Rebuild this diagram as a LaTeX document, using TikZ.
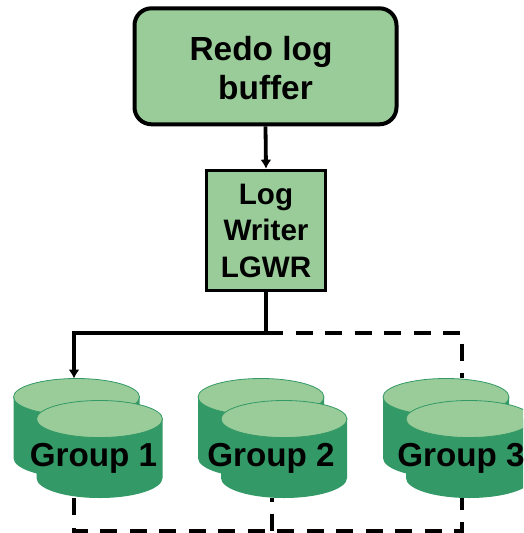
\documentclass[tikz,border=0pt]{standalone}
\usepackage{fontspec}
\setmainfont{Liberation Sans}
\usetikzlibrary{arrows.meta}
\definecolor{lightgreen}{HTML}{99CC99}
\definecolor{darkgreen}{HTML}{339966}
\tikzset{
  every node/.style={font=\bfseries},
  redobox/.style={draw=black,line width=4pt,rounded corners=17pt,fill=lightgreen,minimum width=262pt,minimum height=116pt,inner sep=0pt,align=center,font=\fontsize{33.4}{39}\bfseries\selectfont},
  lgwrbox/.style={draw=black,line width=3.6pt,fill=lightgreen,minimum width=119pt,minimum height=120pt,inner sep=0pt,align=center,font=\fontsize{29.6}{36.5}\bfseries\selectfont},
  grouplabel/.style={anchor=base,inner sep=0pt,font=\fontsize{33.2}{36}\bfseries\selectfont},
  conn/.style={line width=3.8pt,draw=black},
  tip/.style={-{Latex[length=9pt,width=11pt]}},
  dashconn/.style={line width=3.8pt,draw=black,dash pattern=on 17pt off 12.5pt},
  disktop/.style={fill=lightgreen,draw=darkgreen,line width=0.8pt},
  diskbody/.style={fill=darkgreen,draw=none}
}
% #1 left x, #2 top-ellipse centre y, #3 body height
\newcommand{\diskshape}[3]{%
  \path[diskbody] (#1,#2) -- ++(0,#3) arc[start angle=180,end angle=0,x radius=63,y radius=20] -- ++(0,-#3) -- cycle;
  \path[disktop] (#1+63,#2) ellipse[x radius=63,y radius=18.5];
}
\newcommand{\diskpair}[1]{%
  \diskshape{#1}{397}{61}
  \diskshape{#1+23}{419}{59}
}
\begin{document}
\begin{tikzpicture}[x=1pt,y=-1pt]
\useasboundingbox (0,0) rectangle (523,533);
\clip (0,0) rectangle (523,533);
\coordinate (busjoin) at (266,333);
\coordinate (busleft) at (74,333);
\coordinate (busright) at (462,333);
\coordinate (g1top) at (74,378.5);
\coordinate (g1bot) at (74,498);
\coordinate (g2bot) at (272,498);
\coordinate (g3top) at (462,378);
\coordinate (g3bot) at (462,498);
\coordinate (lowleft) at (74,531);
\coordinate (lowmid) at (272,531);
\coordinate (lowright) at (462,531);
% dashed connectors
\draw[dashconn] (g1bot) -- (lowleft) -- (lowright) -- (g3bot);
\draw[dashconn] (lowmid) -- (g2bot);
\draw[dashconn] (busjoin) -- (busright) -- (g3top);
% disks
\diskpair{13.5}
\diskpair{198}
\diskpair{383}
% boxes
\node[redobox] (redo) at (265.5,66.3) {\rule{0pt}{27pt}Redo log\hspace{9pt}\mbox{}\\buffer};
\node[lgwrbox] (lgwr) at (266,230.5) {Log\\Writer\\LGWR};
% solid connectors
\draw[conn,tip] (redo.south) -- (lgwr.north);
\draw[conn,tip] (lgwr.south) -- (busjoin) -- (busleft) -- (g1top);
% group labels
\node[grouplabel] (g1) at (93.5,466) {Group 1};
\node[grouplabel] (g2) at (271,466) {Group 2};
\node[grouplabel] (g3) at (461,466) {Group 3};
\end{tikzpicture}
\end{document}
